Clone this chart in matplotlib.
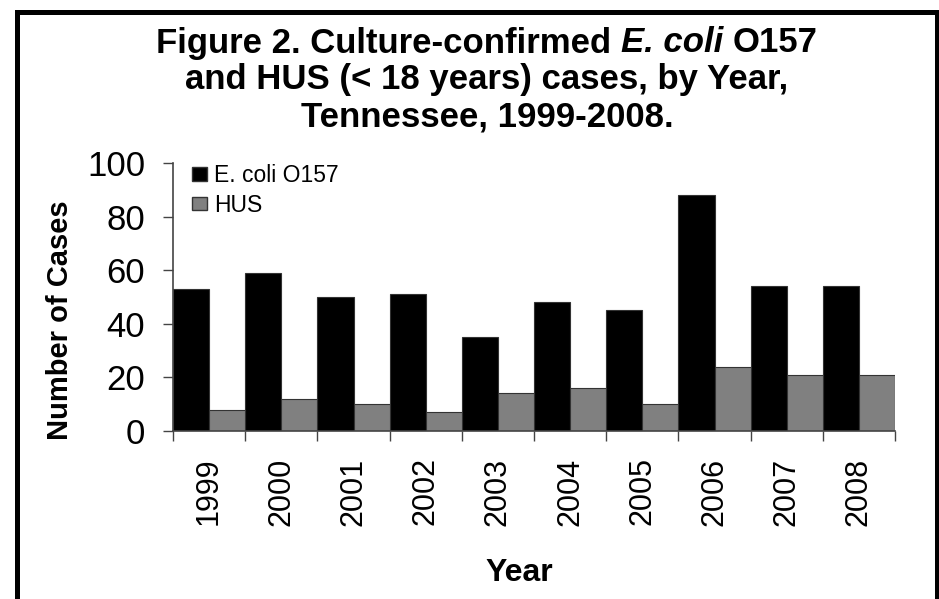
import numpy as np
import matplotlib
matplotlib.use("Agg")
import matplotlib.pyplot as plt
from matplotlib.patches import Rectangle, Patch

plt.rcParams['font.family'] = ['Liberation Sans', 'DejaVu Sans']

years = ['1999', '2000', '2001', '2002', '2003', '2004', '2005', '2006', '2007', '2008']
ecoli = [53, 59, 50, 51, 35, 48, 45, 88, 54, 54]
hus = [8, 12, 10, 7, 14, 16, 10, 24, 21, 21]

W, H = 939, 599
fig = plt.figure(figsize=(W / 100, H / 100), dpi=100)


def fx(px):
    return px / W


def fy(py):
    return 1 - py / H


# plot area in pixel terms: x 173..895, y 163..431
ax = fig.add_axes([fx(173), fy(431), fx(895) - fx(173), fy(163) - fy(431)])

x = np.arange(len(years))
w = 0.5
ax.bar(x - w / 2, ecoli, width=w, color='black', edgecolor='#333333', linewidth=0.8)
ax.bar(x + w / 2, hus, width=w, color='#808080', edgecolor='#333333', linewidth=0.8)

ax.set_xlim(-0.5, len(years) - 0.5)
ax.set_ylim(0, 100)
ax.set_yticks([0, 20, 40, 60, 80, 100])
ax.tick_params(axis='y', labelsize=25, length=7, width=1, color='#444444', pad=13)

# year labels at bar-pair centres, tick marks on the boundaries
ax.set_xticks(x)
ax.set_xticklabels(years, rotation=90, fontsize=22, va='top')
ax.tick_params(axis='x', which='major', length=0, pad=19)
ax.set_xticks(np.arange(-0.5, len(years)), minor=True)
ax.tick_params(axis='x', which='minor', length=7, width=1, color='#444444')

for side in ['top', 'right']:
    ax.spines[side].set_visible(False)
for side in ['left', 'bottom']:
    ax.spines[side].set_color('#444444')
    ax.spines[side].set_linewidth(1.2)

fig.text(fx(60), fy(320), 'Number of Cases', rotation=90, ha='center', va='center',
         fontsize=21, fontweight='bold')
fig.text(fx(519), fy(573), 'Year', ha='center', va='center',
         fontsize=23, fontweight='bold')

handles = [Patch(facecolor='black', edgecolor='#333333'),
           Patch(facecolor='#808080', edgecolor='#333333')]
fig.legend(handles, ['E. coli O157', 'HUS'], loc='upper left',
           bbox_to_anchor=(fx(192), fy(164)), frameon=False, fontsize=16.5,
           handlelength=0.65, handleheight=0.52, handletextpad=0.3,
           labelspacing=0.3, borderaxespad=0, borderpad=0)

# title: first line mixes upright and italic pieces, laid out by measured width
title_kw = dict(fontsize=25, fontweight='bold')
renderer = fig.canvas.get_renderer()


def text_width(s, **kw):
    t = fig.text(0, 0, s, **kw)
    wpx = t.get_window_extent(renderer).width
    t.remove()
    return wpx


space = text_width('x x', **title_kw) - text_width('xx', **title_kw)
pieces = [('Figure 2. Culture-confirmed', 'normal'), ('E. coli', 'italic'), ('O157', 'normal')]
widths = [text_width(s, style=st, **title_kw) for s, st in pieces]
total = sum(widths) + space * (len(pieces) - 1)
left = 487 - total / 2
for (s, st), wpx in zip(pieces, widths):
    fig.text(fx(left), fy(43), s, style=st, ha='left', va='center', **title_kw)
    left += wpx + space

fig.text(fx(487), fy(80), 'and HUS (< 18 years) cases, by Year,', ha='center', va='center',
         **title_kw)
fig.text(fx(487), fy(117), 'Tennessee, 1999-2008.', ha='center', va='center', **title_kw)

# black frame around the page (bottom edge runs off the picture)
fig.patches.append(Rectangle((fx(16.5), -0.05), fx(936.5) - fx(16.5), fy(11.5) + 0.05,
                             transform=fig.transFigure, fill=False,
                             edgecolor='black', linewidth=3.6))

fig.savefig('out.png', dpi=100, facecolor='white')
